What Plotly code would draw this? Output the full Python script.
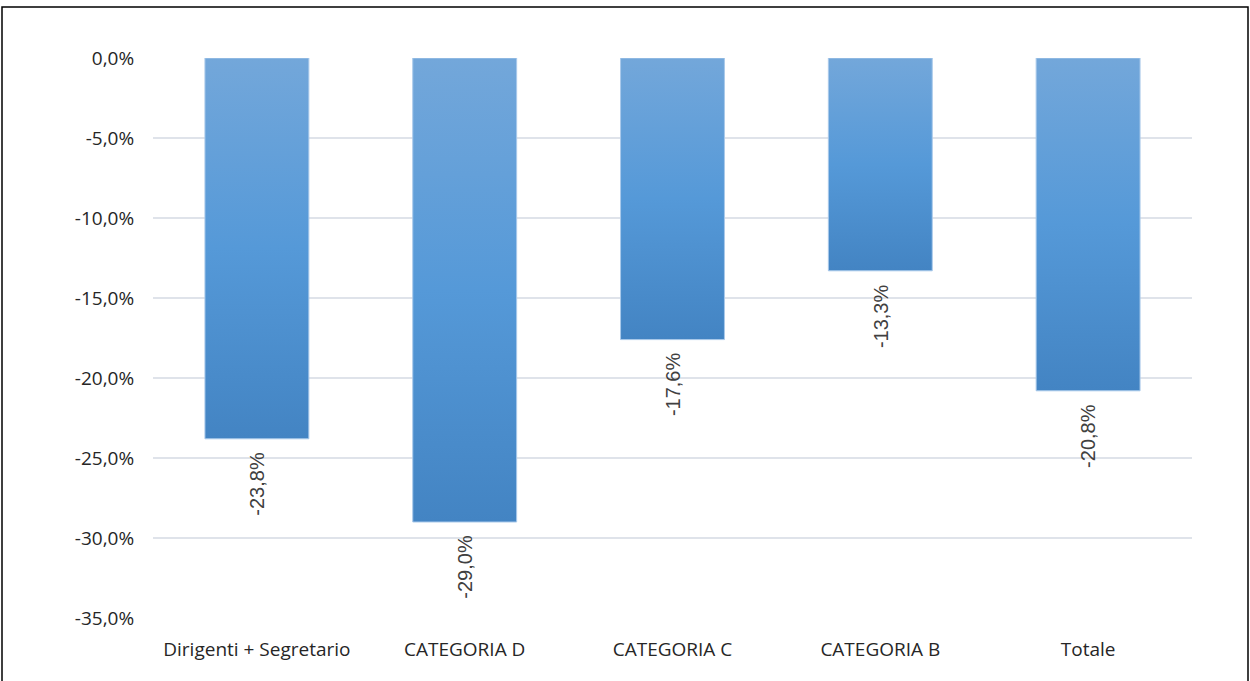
import plotly.graph_objects as go

# Variazione percentuale per categoria di personale
categories = ["Dirigenti + Segretario", "CATEGORIA D", "CATEGORIA C", "CATEGORIA B", "Totale"]
values = [-23.8, -29.0, -17.6, -13.3, -20.8]
y_ticks = [0, -5, -10, -15, -20, -25, -30, -35]
y_tick_labels = ["0,0%", "-5,0%", "-10,0%", "-15,0%", "-20,0%", "-25,0%", "-30,0%", "-35,0%"]


def pct(v):
    return f"{v:.1f}".replace(".", ",") + "%"


BAR_HALF = 0.25
fig = go.Figure()

# Each bar is a filled rectangle with a vertical gradient (dark at the bottom, light at the top)
for i, v in enumerate(values):
    xs = [i - BAR_HALF, i + BAR_HALF, i + BAR_HALF, i - BAR_HALF, i - BAR_HALF]
    ys = [0, 0, v, v, 0]
    fig.add_trace(go.Scatter(
        x=xs, y=ys, mode="lines", fill="toself",
        line=dict(color="#a9c9ea", width=1),
        fillgradient=dict(
            type="vertical",
            colorscale=[[0, "#4384c3"], [0.5, "#5599d8"], [1, "#73a7da"]],
        ),
        hoverinfo="skip", showlegend=False,
    ))
    fig.add_annotation(
        x=i, y=v, xref="x", yref="y", text=pct(v), showarrow=False,
        textangle=-90, yanchor="top", xanchor="center", yshift=-11,
        font=dict(family="Liberation Sans, Arial, sans-serif", size=20, color="#404040"),
    )

# Outer frame of the chart area
W, H = 1250, 681
ml, mr, mt, mb = 153, 58, 58, 63
pw, ph = W - ml - mr, H - mt - mb
fig.add_shape(
    type="rect", xref="paper", yref="paper",
    x0=(2 - ml) / pw, x1=(1248 - ml) / pw,
    y0=-(mb + 10) / ph, y1=1 + (mt - 7) / ph,
    line=dict(color="#000000", width=1.5), layer="above",
)

tick_font = dict(family="Open Sans, sans-serif", size=19, color="#262626")

fig.update_layout(
    width=W, height=H,
    margin=dict(l=ml, r=mr, t=mt, b=mb),
    paper_bgcolor="white", plot_bgcolor="white",
    font=dict(family="Open Sans, sans-serif", size=19, color="#404040"),
    xaxis=dict(
        range=[-0.5, len(categories) - 0.5],
        tickvals=list(range(len(categories))), ticktext=categories,
        showgrid=False, zeroline=False, showline=False,
        ticks="outside", ticklen=14, tickcolor="rgba(0,0,0,0)",
        tickfont=tick_font,
    ),
    yaxis=dict(
        range=[-35, 0],
        tickvals=y_ticks, ticktext=y_tick_labels,
        showgrid=True, gridcolor="#dfe3ea", gridwidth=1.5,
        zeroline=False, showline=False,
        ticks="outside", ticklen=14, tickcolor="rgba(0,0,0,0)",
        tickfont=tick_font,
    ),
)

fig.write_html("out.html")
